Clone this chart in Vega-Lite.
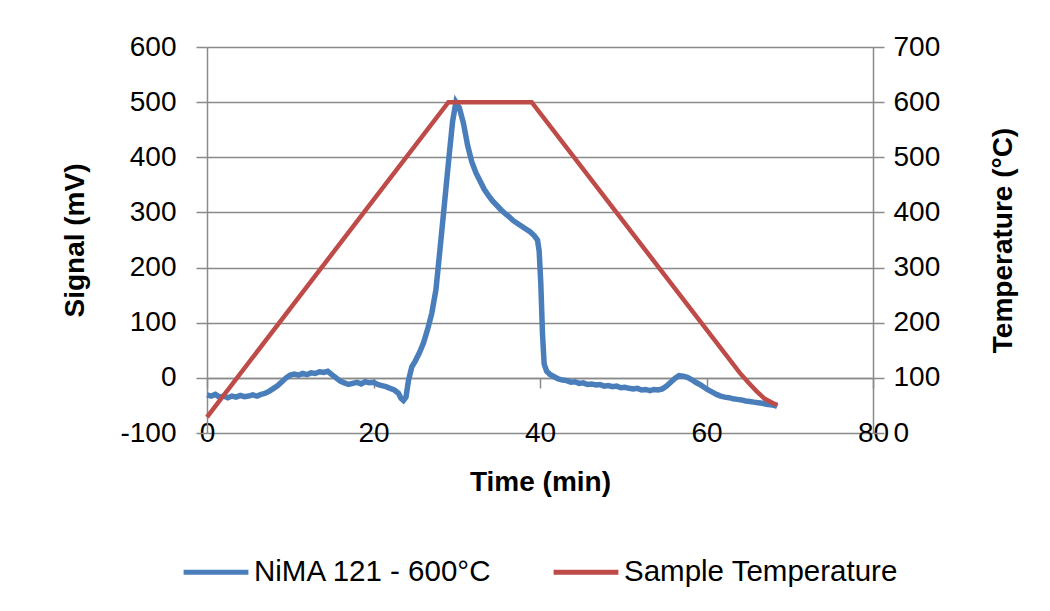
{
  "$schema": "https://vega.github.io/schema/vega-lite/v6.json",
  "width": 666,
  "height": 386,
  "autosize": {"type": "none"},
  "padding": {"left": 207, "top": 47, "right": 177, "bottom": 178},
  "background": "white",
  "config": {
    "view": {"stroke": null},
    "font": "Liberation Sans",
    "axis": {
      "labelFont": "Liberation Sans",
      "titleFont": "Liberation Sans",
      "labelFontSize": 28,
      "titleFontSize": 28,
      "labelColor": "#000000",
      "titleColor": "#000000",
      "titleFontWeight": "bold",
      "domainColor": "#8a8a8a",
      "tickColor": "#8a8a8a",
      "gridColor": "#8a8a8a",
      "domainWidth": 1.5,
      "tickWidth": 1.5,
      "gridWidth": 1.5,
      "labelFlush": false,
      "labelOverlap": false
    },
    "legend": {"labelFont": "Liberation Sans"}
  },
  "datasets": {
    "signal": [
      {"time": 0, "mv": -31}, {"time": 0.5, "mv": -33}, {"time": 1, "mv": -30}, {"time": 1.5, "mv": -35},
      {"time": 2, "mv": -33}, {"time": 2.5, "mv": -36}, {"time": 3, "mv": -33}, {"time": 3.5, "mv": -35},
      {"time": 4, "mv": -32}, {"time": 4.5, "mv": -34}, {"time": 5, "mv": -33}, {"time": 5.5, "mv": -31},
      {"time": 6, "mv": -33}, {"time": 6.5, "mv": -30}, {"time": 7, "mv": -28}, {"time": 7.5, "mv": -24},
      {"time": 8, "mv": -19}, {"time": 8.5, "mv": -14}, {"time": 9, "mv": -7}, {"time": 9.5, "mv": 0},
      {"time": 10, "mv": 5}, {"time": 10.5, "mv": 7}, {"time": 11, "mv": 5}, {"time": 11.5, "mv": 8},
      {"time": 12, "mv": 6}, {"time": 12.5, "mv": 9}, {"time": 13, "mv": 8}, {"time": 13.5, "mv": 11},
      {"time": 14, "mv": 10}, {"time": 14.5, "mv": 12}, {"time": 15, "mv": 6}, {"time": 15.5, "mv": 0},
      {"time": 16, "mv": -6}, {"time": 16.5, "mv": -9}, {"time": 17, "mv": -12}, {"time": 17.5, "mv": -10},
      {"time": 18, "mv": -8}, {"time": 18.5, "mv": -11}, {"time": 19, "mv": -7}, {"time": 19.5, "mv": -9},
      {"time": 20, "mv": -8}, {"time": 20.5, "mv": -12}, {"time": 21, "mv": -14}, {"time": 21.5, "mv": -16},
      {"time": 22, "mv": -19}, {"time": 22.5, "mv": -22}, {"time": 23, "mv": -28}, {"time": 23.3, "mv": -37},
      {"time": 23.6, "mv": -41}, {"time": 23.9, "mv": -35}, {"time": 24.2, "mv": -5}, {"time": 24.6, "mv": 20},
      {"time": 25, "mv": 30}, {"time": 25.5, "mv": 45}, {"time": 26, "mv": 63}, {"time": 26.5, "mv": 88},
      {"time": 27, "mv": 117}, {"time": 27.5, "mv": 160}, {"time": 28, "mv": 235}, {"time": 28.5, "mv": 312},
      {"time": 29, "mv": 390}, {"time": 29.5, "mv": 465}, {"time": 29.9, "mv": 500}, {"time": 30.3, "mv": 490},
      {"time": 30.8, "mv": 462}, {"time": 31.3, "mv": 422}, {"time": 31.8, "mv": 392}, {"time": 32.3, "mv": 372},
      {"time": 32.8, "mv": 357}, {"time": 33.3, "mv": 342}, {"time": 33.8, "mv": 331}, {"time": 34.3, "mv": 321},
      {"time": 34.8, "mv": 313}, {"time": 35.3, "mv": 305}, {"time": 35.8, "mv": 298}, {"time": 36.3, "mv": 292},
      {"time": 36.8, "mv": 285}, {"time": 37.3, "mv": 280}, {"time": 37.8, "mv": 275}, {"time": 38.3, "mv": 270},
      {"time": 38.8, "mv": 265}, {"time": 39.3, "mv": 258}, {"time": 39.7, "mv": 250}, {"time": 39.9, "mv": 230},
      {"time": 40.1, "mv": 170}, {"time": 40.3, "mv": 80}, {"time": 40.5, "mv": 25}, {"time": 40.8, "mv": 12},
      {"time": 41.2, "mv": 6}, {"time": 41.7, "mv": 2}, {"time": 42.2, "mv": -2}, {"time": 42.7, "mv": -4},
      {"time": 43.2, "mv": -5}, {"time": 43.7, "mv": -8}, {"time": 44.2, "mv": -7}, {"time": 44.7, "mv": -10},
      {"time": 45.2, "mv": -9}, {"time": 45.7, "mv": -12}, {"time": 46.2, "mv": -11}, {"time": 46.7, "mv": -13},
      {"time": 47.2, "mv": -12}, {"time": 47.7, "mv": -15}, {"time": 48.2, "mv": -14}, {"time": 48.7, "mv": -16},
      {"time": 49.2, "mv": -15}, {"time": 49.7, "mv": -18}, {"time": 50.2, "mv": -17}, {"time": 50.7, "mv": -19},
      {"time": 51.2, "mv": -20}, {"time": 51.7, "mv": -19}, {"time": 52.2, "mv": -22}, {"time": 52.7, "mv": -21},
      {"time": 53.2, "mv": -23}, {"time": 53.7, "mv": -21}, {"time": 54.2, "mv": -22}, {"time": 54.7, "mv": -20},
      {"time": 55.2, "mv": -15}, {"time": 55.7, "mv": -8}, {"time": 56.2, "mv": -1}, {"time": 56.7, "mv": 4},
      {"time": 57.2, "mv": 3}, {"time": 57.7, "mv": 1}, {"time": 58.2, "mv": -3}, {"time": 58.7, "mv": -8},
      {"time": 59.2, "mv": -12}, {"time": 59.7, "mv": -17}, {"time": 60.2, "mv": -22}, {"time": 60.7, "mv": -26},
      {"time": 61.2, "mv": -30}, {"time": 61.7, "mv": -33}, {"time": 62.2, "mv": -35}, {"time": 62.7, "mv": -36},
      {"time": 63.2, "mv": -38}, {"time": 63.7, "mv": -39}, {"time": 64.2, "mv": -40}, {"time": 64.7, "mv": -42},
      {"time": 65.2, "mv": -43}, {"time": 65.7, "mv": -44}, {"time": 66.2, "mv": -45}, {"time": 66.7, "mv": -46},
      {"time": 67.2, "mv": -48}, {"time": 67.7, "mv": -49}, {"time": 68.2, "mv": -50}, {"time": 68.5, "mv": -52}
    ],
    "temperature": [
      {"time": 0, "temp": 29}, {"time": 29, "temp": 600}, {"time": 39, "temp": 600},
      {"time": 64, "temp": 109}, {"time": 65, "temp": 92}, {"time": 66, "temp": 76},
      {"time": 67, "temp": 62}, {"time": 68, "temp": 54}, {"time": 68.5, "temp": 51}
    ]
  },
  "layer": [
    {
      "data": {"name": "signal"},
      "mark": {"type": "line", "strokeWidth": 5.5, "interpolate": "linear"},
      "encoding": {
        "x": {
          "field": "time", "type": "quantitative",
          "scale": {"domain": [0, 80], "nice": false},
          "axis": {
            "title": "Time (min)", "values": [0, 20, 40, 60, 80],
            "offset": -55, "tickSize": 10, "labelPadding": 45, "labelBaseline": "middle",
            "grid": false, "titleX": 333, "titleY": 104, "titleBaseline": "middle", "titleAlign": "center"
          }
        },
        "y": {
          "field": "mv", "type": "quantitative",
          "scale": {"domain": [-100, 600], "nice": false},
          "axis": {
            "title": "Signal (mV)", "orient": "left",
            "values": [-100, 0, 100, 200, 300, 400, 500, 600],
            "labelExpr": "datum.value < 0 ? '-' + abs(datum.value) : '' + datum.value",
            "grid": true, "tickSize": 11, "labelPadding": 20,
            "titleAngle": 270, "titleX": -132, "titleY": 193, "titleAlign": "center", "titleBaseline": "middle"
          }
        },
        "color": {
          "datum": "NiMA 121 - 600°C", "type": "nominal",
          "scale": {"domain": ["NiMA 121 - 600°C", "Sample Temperature"], "range": ["#4A7EBB", "#BE4B48"]},
          "legend": {
            "title": null, "orient": "none", "direction": "horizontal",
            "legendX": -26, "legendY": 490,
            "symbolType": "stroke", "symbolStrokeWidth": 5, "symbolSize": 4200,
            "labelFontSize": 29.5, "labelOffset": 3, "labelLimit": 500, "columnPadding": 50, "labelColor": "#000000"
          }
        }
      }
    },
    {
      "data": {"name": "temperature"},
      "mark": {"type": "line", "strokeWidth": 4.5},
      "encoding": {
        "x": {"field": "time", "type": "quantitative"},
        "y": {
          "field": "temp", "type": "quantitative",
          "scale": {"domain": [0, 700], "nice": false},
          "axis": {
            "title": "Temperature (°C)", "orient": "right",
            "values": [0, 100, 200, 300, 400, 500, 600, 700],
            "grid": false, "tickSize": 11, "labelPadding": 9,
            "titleAngle": 270, "titleX": 130, "titleY": 193, "titleAlign": "center", "titleBaseline": "middle"
          }
        },
        "color": {"datum": "Sample Temperature", "type": "nominal"}
      }
    }
  ],
  "resolve": {"scale": {"y": "independent"}}
}
